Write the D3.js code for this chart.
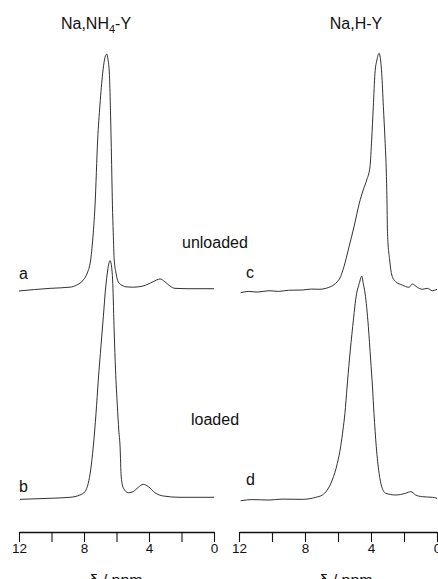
<!DOCTYPE html>
<html>
<head>
<meta charset="utf-8">
<script src="https://cdn.jsdelivr.net/npm/d3@7"></script>
<style>
  html, body { margin: 0; padding: 0; background: #fff; }
  svg { display: block; }
  text { font-family: "Liberation Sans", Arial, sans-serif; fill: #111; }
</style>
</head>
<body>
<svg id="chart" width="438" height="579"></svg>
<script>
// Chemical shift axis (ppm) and labelled ticks
const ppmTicks = [12, 10, 8, 6, 4, 2, 0];
const ppmTickLabels = [12, 8, 4, 0];

// Panel titles and trace labels
const panelTitles = ["Na,NH4-Y", "Na,H-Y"];
const traceLabels = ["a", "b", "c", "d"];
const rowLabels = ["unloaded", "loaded"];
const axisTitle = "δ / ppm";

// 1H MAS NMR spectra, [shift in ppm, relative intensity]
const spectrumA = [
  [12.00, -0.4], [10.09, 0.7], [8.86, 1.2], [8.45, 2.1], [8.04, 4.3], [7.80, 7.2],
  [7.59, 12.8], [7.43, 24.3], [7.32, 36.2], [7.16, 63.8], [7.02, 78.7], [6.85, 92.3],
  [6.74, 97.9], [6.60, 100.4], [6.52, 97.9], [6.44, 92.3], [6.33, 63.8], [6.25, 36.2],
  [6.20, 24.3], [6.14, 12.8], [6.03, 7.2], [5.89, 3.4], [5.58, 1.7], [5.48, 1.4],
  [4.97, 1.2], [4.37, 1.7], [3.75, 3.5], [3.32, 4.7], [3.02, 3.5], [2.71, 1.7],
  [2.40, 0.7], [1.66, 0.55], [0.86, 0.55], [0.00, 0.55]
];
const spectrumB = [
  [11.94, -1.0], [10.09, -0.55], [8.86, -0.13], [8.25, 0.85], [7.94, 2.3], [7.74, 5.8],
  [7.59, 11.5], [7.43, 21.4], [7.26, 35.6], [7.12, 49.8], [6.95, 64.7], [6.81, 76.7],
  [6.68, 88.1], [6.54, 96.6], [6.40, 100.6], [6.28, 96.6], [6.23, 90.9], [6.14, 69.8],
  [6.06, 54.0], [5.95, 39.1], [5.86, 28.5], [5.78, 21.4], [5.71, 8.6], [5.57, 3.7],
  [5.27, 1.8], [4.97, 2.3], [4.66, 4.1], [4.35, 5.4], [4.04, 4.4], [3.63, 1.8],
  [3.12, 0.43], [2.09, -0.13], [0.00, -0.13]
];
const spectrumC = [
  [11.90, -1.15], [11.40, -0.6], [10.90, -0.9], [10.18, -0.3], [9.60, -0.6], [9.00, -0.1],
  [8.16, 0.0], [7.60, 0.4], [7.15, 0.3], [6.55, 1.15], [6.14, 2.85], [5.84, 5.7],
  [5.64, 9.9], [5.33, 18.4], [5.03, 26.9], [4.71, 36.9], [4.47, 42.6], [4.26, 46.8],
  [4.06, 52.5], [3.96, 63.8], [3.86, 78.0], [3.76, 92.2], [3.64, 97.9], [3.51, 100.7],
  [3.42, 97.9], [3.35, 92.2], [3.25, 78.0], [3.15, 63.8], [3.07, 49.7], [3.03, 37.0],
  [3.00, 24.1], [2.87, 12.8], [2.74, 6.4], [2.50, 3.5], [2.10, 2.1], [1.70, 1.15],
  [1.50, 2.55], [1.19, 1.15], [0.89, 0.3], [0.59, 0.7], [0.28, -0.3], [0.00, 0.3]
];
const spectrumD = [
  [11.90, -1.6], [11.20, -1.1], [10.18, -1.3], [9.40, -0.9], [8.16, -1.0], [7.35, -0.13],
  [6.95, 0.85], [6.65, 3.0], [6.35, 7.2], [6.04, 14.3], [5.84, 21.4], [5.70, 28.5],
  [5.58, 35.6], [5.45, 46.8], [5.31, 58.3], [5.11, 72.5], [4.87, 86.7], [4.71, 90.9],
  [4.56, 94.0], [4.47, 90.9], [4.36, 86.7], [4.16, 72.5], [4.02, 58.3], [3.91, 46.8],
  [3.82, 35.6], [3.68, 21.4], [3.51, 10.1], [3.35, 4.4], [3.11, 1.6], [2.50, 0.85],
  [1.90, 1.6], [1.59, 2.3], [1.29, 0.85], [0.89, 0.13], [0.28, -0.13], [0.00, -0.55]
];

const svg = d3.select("#chart");

// Two panels side by side, two stacked traces per panel
const panels = [
  { range: [19, 214], titleX: 96, axisTitleX: 116, traces: [spectrumA, spectrumB], labels: [traceLabels[0], traceLabels[1]], labelX: 19 },
  { range: [239, 437], titleX: 356, axisTitleX: 346, traces: [spectrumC, spectrumD], labels: [traceLabels[2], traceLabels[3]], labelX: 246 }
];
const rows = [
  { y: d3.scaleLinear().domain([0, 100]).range([290, 55]), labelY: 279 },
  { y: d3.scaleLinear().domain([0, 100]).range([497, 262]), labelY: 492 }
];
const rowLabelX = [[19, 246], [19, 246]];
const labelBaselines = [[279, 492], [278, 485]];
const axisY = 532;

panels.forEach((p, pi) => {
  const x = d3.scaleLinear().domain([12, 0]).range(p.range);

  p.traces.forEach((data, ri) => {
    const y = rows[ri].y;
    const line = d3.line()
      .x(d => x(d[0]))
      .y(d => y(d[1]))
      .curve(d3.curveMonotoneX);
    svg.append("path")
      .datum(data)
      .attr("d", line)
      .attr("fill", "none")
      .attr("stroke", "#1a1a1a")
      .attr("stroke-width", 0.9)
      .attr("stroke-linejoin", "round");

    svg.append("text")
      .attr("x", p.labelX)
      .attr("y", labelBaselines[pi][ri])
      .attr("font-size", 16)
      .text(p.labels[ri]);
  });

  // Bottom ppm axis
  const axis = d3.axisBottom(x)
    .tickValues(ppmTicks)
    .tickSize(10)
    .tickSizeOuter(0)
    .tickFormat(d => ppmTickLabels.includes(d) ? d : "");
  const g = svg.append("g")
    .attr("transform", `translate(0,${axisY})`)
    .call(axis);
  g.select(".domain").attr("stroke", "#111").attr("stroke-width", 1.3);
  g.selectAll(".tick line").attr("stroke", "#111").attr("stroke-width", 1.1);
  g.selectAll(".tick text")
    .attr("y", 11)
    .attr("dy", "0.71em")
    .attr("font-size", 13.5)
    .attr("font-family", "Liberation Sans, Arial, sans-serif")
    .attr("fill", "#111");

  svg.append("text")
    .attr("x", p.axisTitleX)
    .attr("y", 586)
    .attr("text-anchor", "middle")
    .attr("font-size", 16)
    .text(axisTitle);

  // Panel title with subscript digit
  const t = svg.append("text")
    .attr("x", p.titleX)
    .attr("y", 29)
    .attr("text-anchor", "middle")
    .attr("font-size", 16);
  const parts = panelTitles[pi].match(/^(.*?)(\d)(.*)$/);
  if (parts) {
    t.append("tspan").text(parts[1]);
    t.append("tspan").attr("font-size", 11).attr("dy", 4).text(parts[2]);
    t.append("tspan").attr("dy", -4).text(parts[3]);
  } else {
    t.text(panelTitles[pi]);
  }
});

// Row captions between the panels
svg.append("text").attr("x", 182).attr("y", 248).attr("font-size", 16).text(rowLabels[0]);
svg.append("text").attr("x", 191).attr("y", 425).attr("font-size", 16).text(rowLabels[1]);
</script>
</body>
</html>
